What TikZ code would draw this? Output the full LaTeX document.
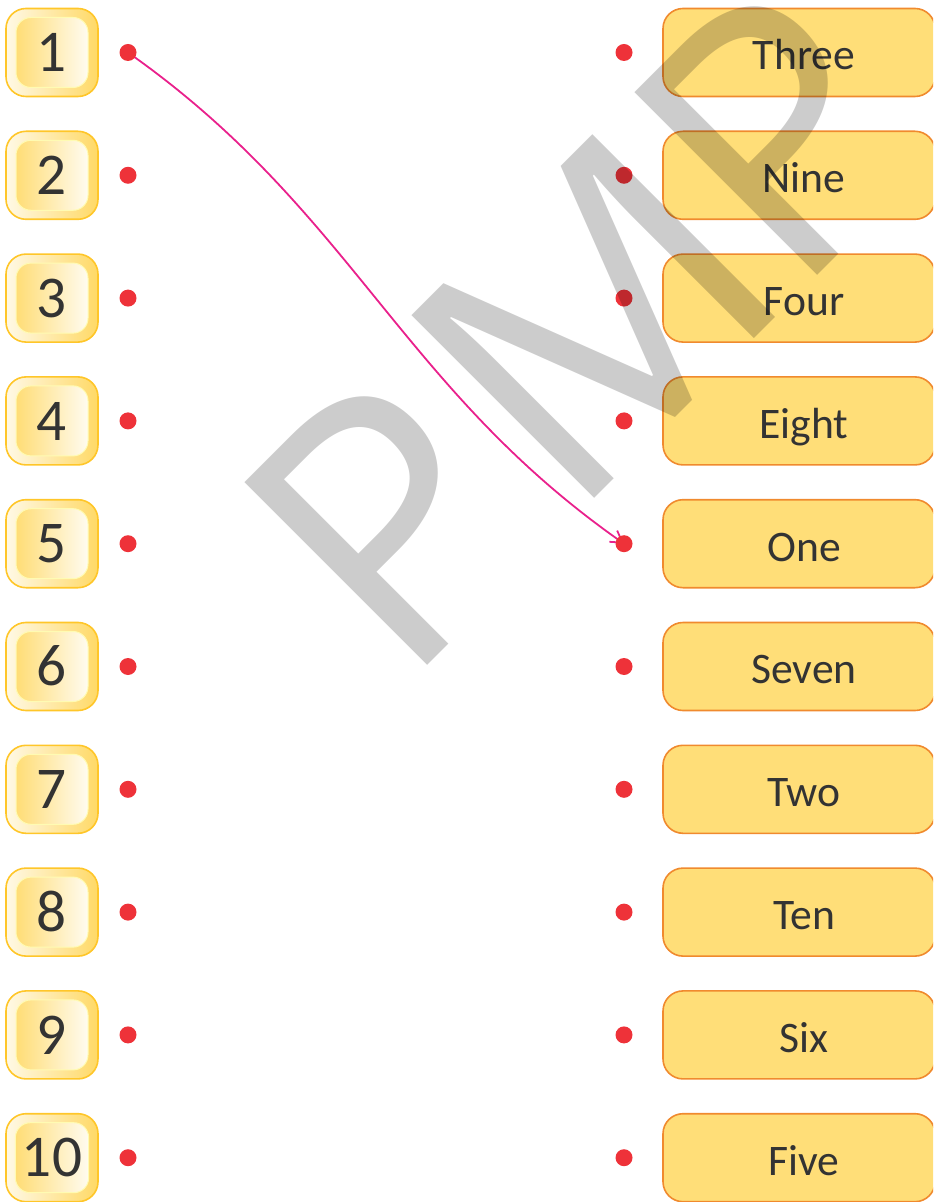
\documentclass[tikz,border=0pt]{standalone}
\usepackage{fontspec}
\setmainfont{Carlito}
\newfontfamily\markfont{Open Sans}
\usetikzlibrary{arrows.meta}
\definecolor{goldring}{HTML}{FFC629}
\definecolor{goldfill}{HTML}{FFD966}
\definecolor{cream}{HTML}{FFF9E6}
\definecolor{wordfill}{HTML}{FFDE78}
\definecolor{wordline}{HTML}{F08A2E}
\definecolor{dotred}{HTML}{EE3239}
\definecolor{linkpink}{HTML}{E9218C}
\definecolor{inktext}{HTML}{333333}

\begin{document}
\begin{tikzpicture}[x=0.5pt, y=-0.5pt, >={Straight Barb[length=2mm, width=2.4mm]},
	numouter/.style={draw=goldring, line width=0.8pt, rounded corners=10pt, left color=cream, right color=goldfill, minimum width=46pt, minimum height=44pt},
	numinner/.style={draw=yellow!30!white, line width=0.5pt, rounded corners=7.5pt, left color=goldfill!90!white, right color=cream!60!white, minimum width=36pt, minimum height=35pt, text=inktext, font=\fontsize{29.6}{30}\selectfont, text height=19.2pt, text depth=0pt},
	wordbox/.style={draw=wordline, line width=0.8pt, rounded corners=10pt, fill=wordfill, minimum width=136pt, minimum height=44pt, text=inktext, font=\fontsize{21.8}{22}\selectfont, text height=17.3pt, text depth=0pt}]
	\clip (0,0) rectangle (933,1202);
	\foreach \w [count=\i] in {Three,Nine,Four,Eight,One,Seven,Two,Ten,Six,Five} {
		\pgfmathsetmacro\y{52.5+(\i-1)*122.8}
		\node[numouter] (numbg\i) at (52,\y) {};
		\node[numinner] (num\i) at (52,\y) {\i};
		\node[wordbox] (word\i) at (799,\y) {\hspace{5pt}\w};
		\coordinate (ldot\i) at (128,\y);
		\coordinate (rdot\i) at (624,\y);
	}
	\draw[->, linkpink, line width=0.9pt] (ldot1) .. controls (352,210) and (400,387) .. (rdot5);
	\foreach \i in {1,...,10} {
		\fill[dotred] (ldot\i) circle (4.25pt);
		\fill[dotred] (rdot\i) circle (4.25pt);
	}
	\node[rotate=45, anchor=base west, inner sep=0pt, text=black, opacity=0.2, font=\markfont\fontsize{181}{181}\selectfont] (mark) at (402,691) {P\kern9.5ptM\kern-6ptP};
\end{tikzpicture}
\end{document}
